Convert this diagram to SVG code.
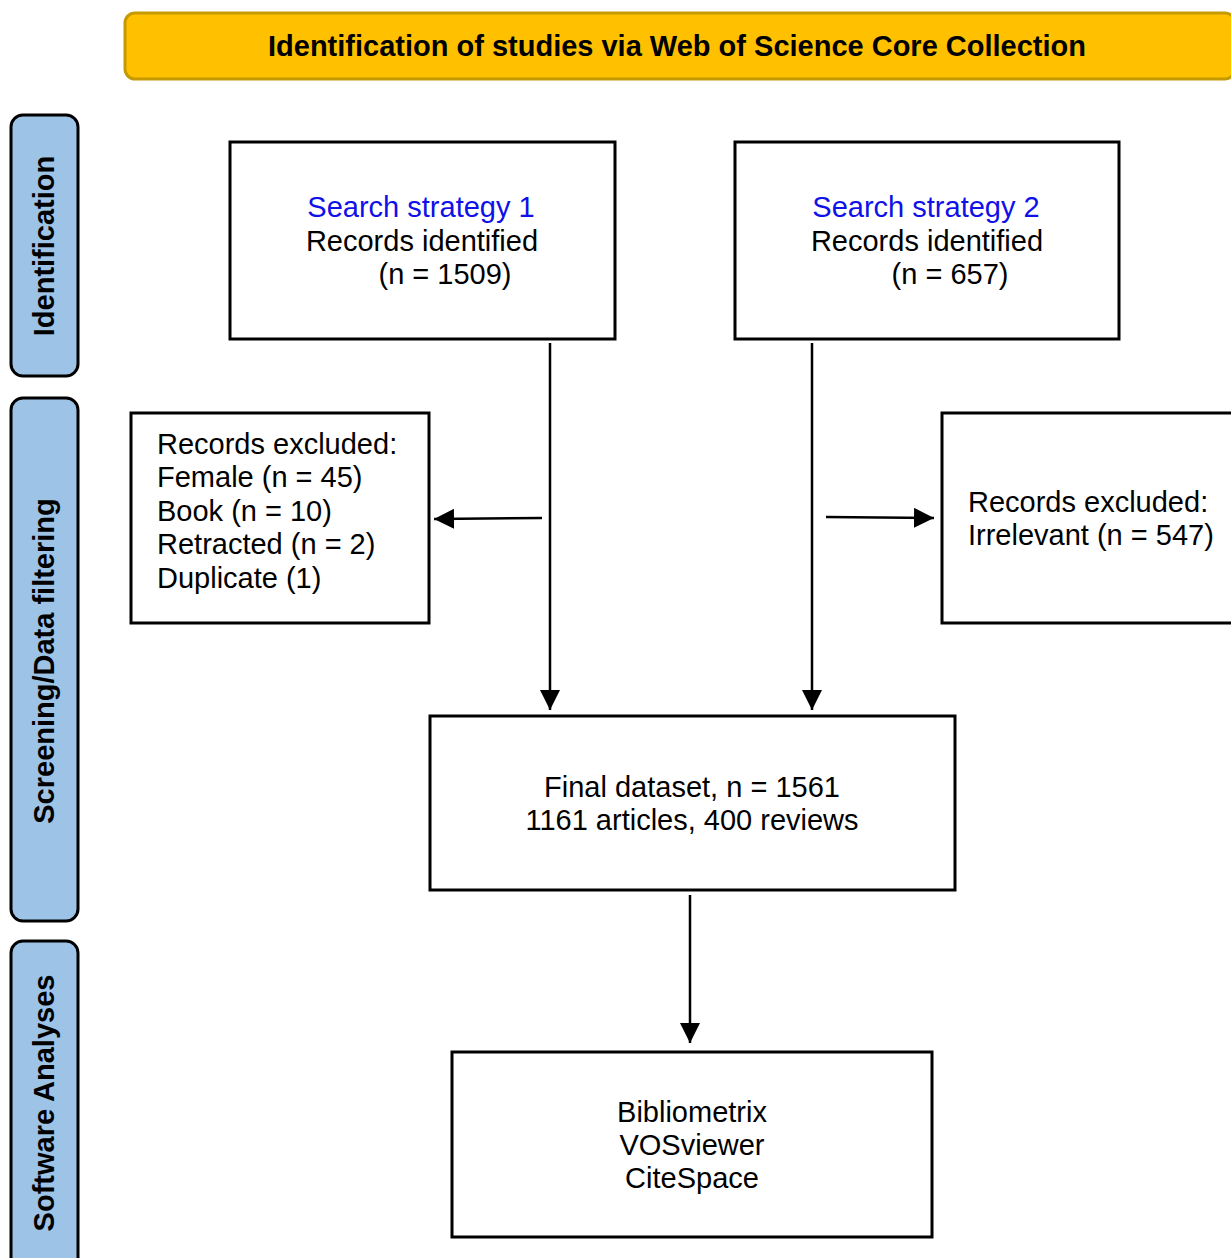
<svg xmlns="http://www.w3.org/2000/svg" width="1231" height="1258" viewBox="0 0 1231 1258">
<style>
.box{fill:#fff;stroke:#000;stroke-width:3}
.side{fill:#9DC3E6;stroke:#000;stroke-width:3}
.t{font-family:"Liberation Sans",Arial,sans-serif;font-size:29px;fill:#000}
.c{text-anchor:middle}
.b{font-weight:bold}
.blue{fill:#1010E8}
.conn{stroke:#000;stroke-width:2.5;fill:none}
</style>
<defs>
<marker id="ah2" viewBox="0 0 20 20" refX="20" refY="10" markerWidth="20" markerHeight="20" orient="auto" markerUnits="userSpaceOnUse">
<path d="M0,0 L20,10 L0,20 Z" fill="#000"/>
</marker>
</defs>
<rect width="1231" height="1258" fill="#fff"/>
<g id="banner">
<rect x="125" y="13" width="1110" height="66" rx="10" fill="#FFC000" stroke="#C49A00" stroke-width="3"/>
<text class="t b c" x="677" y="56" font-size="27" textLength="818" lengthAdjust="spacingAndGlyphs">Identification of studies via Web of Science Core Collection</text>
</g>
<g id="side-identification">
<rect class="side" x="11" y="115" width="67" height="261" rx="12"/>
<text class="t b c" transform="translate(54,246) rotate(-90)" font-size="27">Identification</text>
</g>
<g id="side-screening">
<rect class="side" x="11" y="398" width="67" height="523" rx="12"/>
<text class="t b c" transform="translate(54,661) rotate(-90)" font-size="27">Screening/Data filtering</text>
</g>
<g id="side-software">
<rect class="side" x="11" y="941" width="67" height="330" rx="12"/>
<text class="t b c" transform="translate(54,1103) rotate(-90)" font-size="27">Software Analyses</text>
</g>
<g id="search1">
<rect class="box" x="230" y="142" width="385" height="197"/>
<text class="t c blue" x="421" y="217">Search strategy 1</text>
<text class="t c" x="422" y="251">Records identified</text>
<text class="t c" x="445" y="284">(n = 1509)</text>
</g>
<g id="search2">
<rect class="box" x="735" y="142" width="384" height="197"/>
<text class="t c blue" x="926" y="217">Search strategy 2</text>
<text class="t c" x="927" y="251">Records identified</text>
<text class="t c" x="950" y="284">(n = 657)</text>
</g>
<g id="excluded1">
<rect class="box" x="131" y="413" width="298" height="210"/>
<text class="t" x="157" y="454">Records excluded:</text>
<text class="t" x="157" y="487">Female (n = 45)</text>
<text class="t" x="157" y="521">Book (n = 10)</text>
<text class="t" x="157" y="554">Retracted (n = 2)</text>
<text class="t" x="157" y="588">Duplicate (1)</text>
</g>
<g id="excluded2">
<rect class="box" x="942" y="413" width="300" height="210"/>
<text class="t" x="968" y="512">Records excluded:</text>
<text class="t" x="968" y="545">Irrelevant (n = 547)</text>
</g>
<g id="final">
<rect class="box" x="430" y="716" width="525" height="174"/>
<text class="t c" x="692" y="797">Final dataset, n = 1561</text>
<text class="t c" x="692" y="830">1161 articles, 400 reviews</text>
</g>
<g id="software">
<rect class="box" x="452" y="1052" width="480" height="185"/>
<text class="t c" x="692" y="1122">Bibliometrix</text>
<text class="t c" x="692" y="1155">VOSviewer</text>
<text class="t c" x="692" y="1188">CiteSpace</text>
</g>
<g id="connectors">
<line class="conn" x1="550" y1="343" x2="550" y2="710" marker-end="url(#ah2)"/>
<line class="conn" x1="812" y1="343" x2="812" y2="710" marker-end="url(#ah2)"/>
<line class="conn" x1="542" y1="518" x2="434" y2="519" marker-end="url(#ah2)"/>
<line class="conn" x1="826" y1="517" x2="934" y2="518" marker-end="url(#ah2)"/>
<line class="conn" x1="690" y1="895" x2="690" y2="1043" marker-end="url(#ah2)"/>
</g>
</svg>
